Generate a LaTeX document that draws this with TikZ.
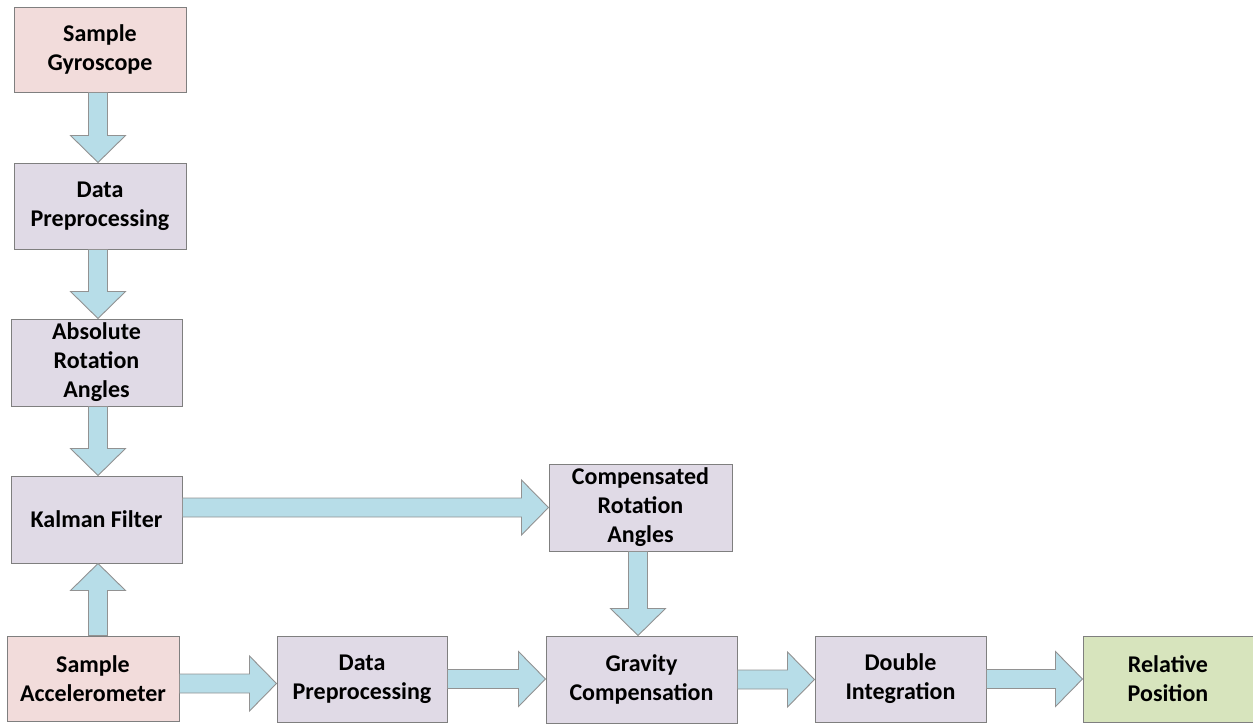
\documentclass[tikz,border=0pt]{standalone}
\usepackage{fontspec}
\setmainfont{Carlito}
\usetikzlibrary{calc}

\definecolor{pinkfill}{HTML}{F2DCDB}
\definecolor{lilacfill}{HTML}{E0DAE6}
\definecolor{greenfill}{HTML}{D7E4BD}
\definecolor{aquafill}{HTML}{B7DDE8}
\definecolor{edgegray}{HTML}{7F7F7F}

\tikzset{
  box/.style={draw=edgegray, line width=1pt, minimum width=#1, align=center,
    font=\fontsize{24}{29}\selectfont\bfseries, text=black, inner sep=0pt},
  box/.default=171,
  sensor/.style={fill=pinkfill},
  stage/.style={fill=lilacfill},
  result/.style={fill=greenfill},
  fatarrow/.style={draw=edgegray!85, line width=0.9pt, fill=aquafill, line join=miter},
}

% block arrow from #1 to #2 (shaft half width 9.5, head half width 27.5, head length 27)
\newcommand\blockarrow[2]{%
  \path (#1) coordinate (ba-a) (#2) coordinate (ba-b);
  \path ($(ba-b)!27pt!(ba-a)$) coordinate (ba-h);
  \draw[fatarrow]
    ($(ba-a)!9.5pt!90:(ba-b)$) -- ($(ba-h)!9.5pt!90:(ba-b)$) --
    ($(ba-h)!27.5pt!90:(ba-b)$) -- (ba-b) --
    ($(ba-h)!27.5pt!-90:(ba-b)$) -- ($(ba-h)!9.5pt!-90:(ba-b)$) --
    ($(ba-a)!9.5pt!-90:(ba-b)$) -- cycle;}

\begin{document}
\begin{tikzpicture}[x=1pt, y=-1pt]
  \useasboundingbox (0,0) rectangle (1253,726);

  % left column: gyroscope chain
  \node[box=172, sensor, minimum height=85] (gyro) at (100,49.5) {Sample\\Gyroscope};
  \node[box=172, stage, minimum height=86] (dpg) at (100,206) {Data\\Preprocessing};
  \node[box=171, stage, minimum height=87] (abs) at (96.5,362.5) {Absolute\\Rotation\\Angles};
  \node[box=171, stage, minimum height=87] (kal) at (96.5,519.5) {Kalman Filter};

  % compensated angles
  \node[box=183, stage, minimum height=87] (comp) at (640.5,507.5) {Compensated\\Rotation\\Angles};

  % bottom row: accelerometer chain
  \node[box=172, sensor, minimum height=85] (acc) at (93,678.5) {Sample\\Accelerometer};
  \node[box=170, stage, minimum height=86] (dpa) at (362,679) {Data\\Preprocessing};
  \node[box=191, stage, minimum height=87] (grav) at (641.5,679.5) {Gravity\\Compensation};
  \node[box=171, stage, minimum height=86] (dbl) at (900.5,679) {Double\\Integration};
  \node[box=170, result, minimum height=86] (rel) at (1168,679) {Relative\\Position};

  % connectors
  \blockarrow{[xshift=-2pt]gyro.south}{[xshift=-2pt]gyro.south |- dpg.north}
  \blockarrow{[xshift=-2pt]dpg.south}{[xshift=-2pt]dpg.south |- abs.north}
  \blockarrow{[xshift=1.5pt]abs.south}{[xshift=1.5pt]abs.south |- kal.north}
  \blockarrow{[xshift=1.5pt]kal.south |- acc.north}{[xshift=1.5pt]kal.south}
  \blockarrow{kal.east |- comp.west}{comp.west}
  \blockarrow{[xshift=-2.5pt]comp.south}{[xshift=-2.5pt]comp.south |- grav.north}
  \blockarrow{[yshift=-5pt]acc.east}{[yshift=-5pt]acc.east -| dpa.west}
  \blockarrow{dpa.east}{dpa.east -| grav.west}
  \blockarrow{grav.east}{grav.east -| dbl.west}
  \blockarrow{dbl.east}{dbl.east -| rel.west}
\end{tikzpicture}
\end{document}
